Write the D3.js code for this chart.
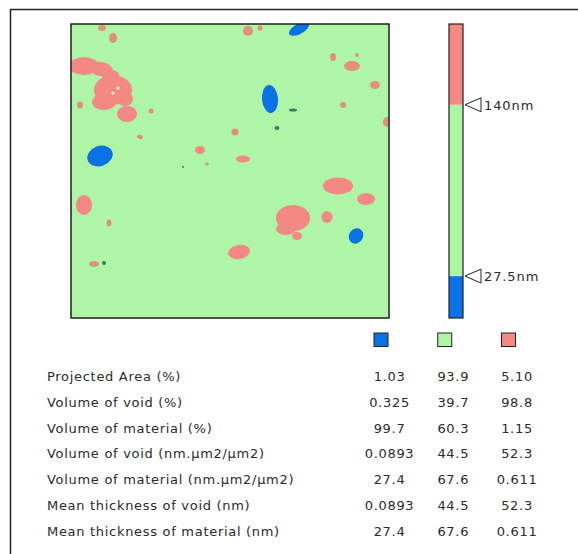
<!DOCTYPE html>
<html>
<head>
<meta charset="utf-8">
<script src="https://cdn.jsdelivr.net/npm/d3@7"></script>
<style>
  body { margin: 0; background: #fff; }
  text { font-family: "DejaVu Sans", sans-serif; fill: #2a2a2a; }
</style>
</head>
<body>
<svg id="chart" width="578" height="554"></svg>
<script>
// Height classes of the thickness map
const classes = ["void", "core", "material"];
const classColors = { void: "#0a72e6", core: "#aef5a6", material: "#f38884" };
const thresholdsNm = [27.5, 140];
const heightRangeNm = [0, 193];
const thresholdLabels = ["27.5nm", "140nm"];

// Scan grid size in samples (x, y)
const scanSize = [318, 294];

// Regions of the map, as [x, y, rx, ry, angle] in scan samples
const voidBlobs = [
  [29, 132, 13, 10, -20],
  [228, 5, 11, 5, -28],
  [199, 75, 8, 14, -5],
  [285, 212, 7, 8, 35]
];
const materialBlobs = [
  [13, 42, 15, 9, 0],
  [30, 45, 12, 7, 10],
  [40, 53, 9, 7, 0],
  [42, 66, 19, 15, 0],
  [33, 78, 12, 8, 0],
  [56, 90, 10, 8, 0],
  [54, 75, 8, 7, 0],
  [13, 181, 8, 10, 0],
  [267, 162, 15, 8.5, 0],
  [295, 175, 9, 6, 0],
  [222, 194, 17, 13, 0],
  [215, 205, 10, 6, 0],
  [226, 212, 5, 4, 0],
  [168, 228, 11, 7, -10],
  [256, 193, 5.5, 6, 0],
  [129, 126, 5, 4, 0],
  [172, 135, 7, 3.5, 0]
];
const materialSpecks = [
  [31, 4, 4, 3, 0],
  [42, 14, 4, 5, 0],
  [9, 81, 3, 3.5, 0],
  [80, 87, 2.5, 2.5, 0],
  [69, 113, 3, 2, 20],
  [136, 140, 1.8, 1.5, 0],
  [164, 108, 3.5, 3.5, 0],
  [177, 7, 5, 5, 0],
  [189, 4, 2.5, 2.5, 0],
  [262, 33, 3, 4, 0],
  [281, 42, 8, 5, 0],
  [286, 31, 2, 2, 0],
  [304, 61, 5, 4, 0],
  [272, 81, 3, 3, 0],
  [316, 98, 4, 5, 0],
  [38, 199, 2.5, 3.5, 0],
  [23, 240, 5, 3, 0]
];
const darkSpecks = [
  [222, 86, 4, 1.5, 0],
  [206, 104, 2.5, 2, 0],
  [33, 239, 2, 2, 0],
  [112, 143, 1, 1, 0]
];
const gapSpots = [
  [47, 64, 1.6, 1.6, 0],
  [42, 69, 1.6, 1.6, 0]
];

// Statistics table
const rowLabels = [
  "Projected Area (%)",
  "Volume of void (%)",
  "Volume of material (%)",
  "Volume of void (nm.\u00b5m2/\u00b5m2)",
  "Volume of material (nm.\u00b5m2/\u00b5m2)",
  "Mean thickness of void (nm)",
  "Mean thickness of material (nm)"
];
const voidValues = ["1.03", "0.325", "99.7", "0.0893", "27.4", "0.0893", "27.4"];
const coreValues = ["93.9", "39.7", "60.3", "44.5", "67.6", "44.5", "67.6"];
const materialValues = ["5.10", "98.8", "1.15", "52.3", "0.611", "52.3", "0.611"];

const svg = d3.select("#chart");

// Outer frame
svg.append("rect")
  .attr("x", 10.5).attr("y", 9.5)
  .attr("width", 620).attr("height", 620)
  .attr("fill", "none").attr("stroke", "#222").attr("stroke-width", 1.5);

// Map
const x = d3.scaleLinear().domain([0, scanSize[0]]).range([71, 389]);
const y = d3.scaleLinear().domain([0, scanSize[1]]).range([24, 318]);

svg.append("clipPath").attr("id", "mapClip")
  .append("rect")
  .attr("x", x(0)).attr("y", y(0))
  .attr("width", x(scanSize[0]) - x(0)).attr("height", y(scanSize[1]) - y(0));

const map = svg.append("g").attr("clip-path", "url(#mapClip)");
map.append("rect")
  .attr("x", x(0)).attr("y", y(0))
  .attr("width", x(scanSize[0]) - x(0)).attr("height", y(scanSize[1]) - y(0))
  .attr("fill", classColors.core);

function drawBlobs(data, fill) {
  map.append("g").selectAll("ellipse").data(data).join("ellipse")
    .attr("transform", d => `translate(${x(d[0])},${y(d[1])}) rotate(${d[4]})`)
    .attr("rx", d => x(d[2]) - x(0))
    .attr("ry", d => y(d[3]) - y(0))
    .attr("fill", fill);
}
drawBlobs(materialBlobs, classColors.material);
drawBlobs(materialSpecks, "#e2907c");
drawBlobs(gapSpots, "#e9f7dc");
drawBlobs(voidBlobs, classColors.void);
drawBlobs(darkSpecks, "#2f8062");

svg.append("rect")
  .attr("x", x(0)).attr("y", y(0))
  .attr("width", x(scanSize[0]) - x(0)).attr("height", y(scanSize[1]) - y(0))
  .attr("fill", "none").attr("stroke", "#1e1e1e").attr("stroke-width", 1.5);

// Colour bar
const cb = d3.scaleLinear().domain(heightRangeNm).range([318, 24]);
const cbX = 449, cbW = 14;
const bounds = [heightRangeNm[0], ...thresholdsNm, heightRangeNm[1]];
const segments = classes.map((c, i) => ({ cls: c, lo: bounds[i], hi: bounds[i + 1] }));

svg.append("g").selectAll("rect").data(segments).join("rect")
  .attr("x", cbX).attr("width", cbW)
  .attr("y", d => cb(d.hi)).attr("height", d => cb(d.lo) - cb(d.hi))
  .attr("fill", d => classColors[d.cls]);
svg.append("rect")
  .attr("x", cbX).attr("y", cb(heightRangeNm[1]))
  .attr("width", cbW).attr("height", cb(heightRangeNm[0]) - cb(heightRangeNm[1]))
  .attr("fill", "none").attr("stroke", "#1e1e1e").attr("stroke-width", 1.2);

const markers = svg.append("g").selectAll("g")
  .data(thresholdsNm.map((v, i) => ({ v, label: thresholdLabels[i] })))
  .join("g")
  .attr("transform", d => `translate(${cbX + cbW + 2},${cb(d.v)})`);
markers.append("path")
  .attr("d", "M0,0 L16,-7 L16,7 Z")
  .attr("fill", "#fff").attr("stroke", "#222").attr("stroke-width", 1);
markers.append("text")
  .attr("x", 19).attr("y", 5)
  .attr("font-size", 13).attr("letter-spacing", 0.9)
  .text(d => d.label);

// Statistics table
const colX = d3.scalePoint().domain(classes).range([389.5, 517]);
const rowY = d3.scalePoint().domain(d3.range(rowLabels.length)).range([381, 535.5]);

svg.append("g").selectAll("rect").data(classes).join("rect")
  .attr("x", d => colX(d) - 15.5).attr("y", 333)
  .attr("width", 14).attr("height", 13.5)
  .attr("fill", d => classColors[d])
  .attr("stroke", "#222").attr("stroke-width", 1);

svg.append("g").selectAll("text").data(rowLabels).join("text")
  .attr("x", 47).attr("y", (d, i) => rowY(i))
  .attr("font-size", 13).attr("letter-spacing", 0.7)
  .text(d => d);

const columns = { void: voidValues, core: coreValues, material: materialValues };
classes.forEach(c => {
  svg.append("g").selectAll("text").data(columns[c]).join("text")
    .attr("x", colX(c)).attr("y", (d, i) => rowY(i))
    .attr("text-anchor", "middle")
    .attr("font-size", 13).attr("letter-spacing", 0.7)
    .text(d => d);
});
</script>
</body>
</html>
